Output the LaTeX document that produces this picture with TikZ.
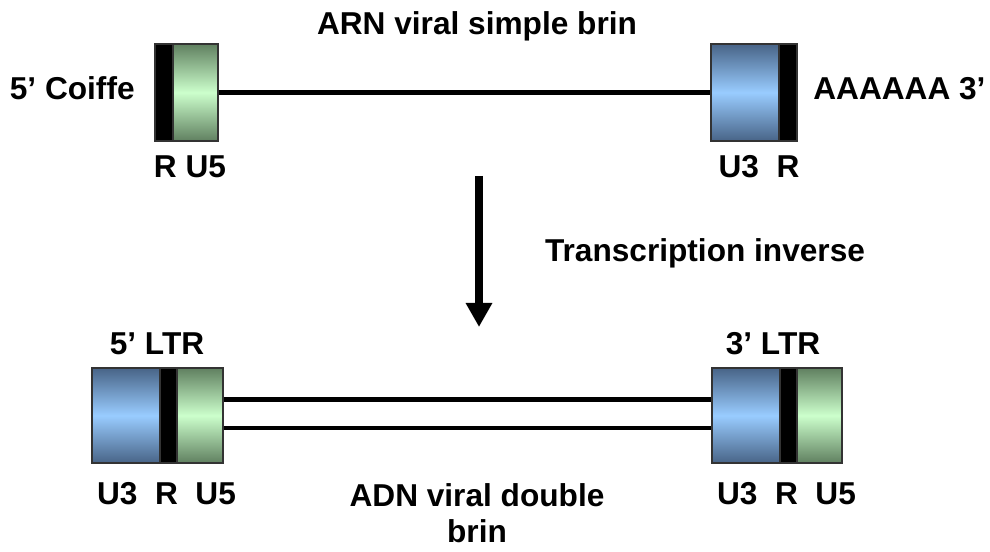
\documentclass[tikz,border=0pt]{standalone}
\usepackage{fontspec}
\setmainfont{Liberation Sans}
\usetikzlibrary{arrows.meta}

\definecolor{greendark}{RGB}{96,128,96}
\definecolor{greenlight}{RGB}{204,255,204}
\definecolor{bluedark}{RGB}{72,100,135}
\definecolor{bluelight}{RGB}{153,204,255}

\tikzset{
  seg/.style={draw=black!80, line width=0.6pt, inner sep=0pt, minimum height=1.94cm},
  rbox/.style={seg, fill=black, minimum width=0.36cm},
  ubox/.style={seg, top color=greendark, bottom color=greendark, middle color=greenlight, minimum width=0.9cm},
  tbox/.style={seg, top color=bluedark, bottom color=bluedark, middle color=bluelight, minimum width=1.36cm},
  lbl/.style={font=\bfseries\fontsize{18}{20}\selectfont, inner sep=0pt},
  strand/.style={line width=2.3pt}
}

\begin{document}
\begin{tikzpicture}
\useasboundingbox (0,0) rectangle (19.8,-11.04);
% ARN
\node[rbox] (r1) at (3.28,-1.85) {};
\node[ubox] (u51) at (3.91,-1.85) {};
\node[tbox] (u31) at (14.90,-1.85) {};
\node[rbox] (r2) at (15.76,-1.85) {};
\draw [strand] (u51) -- (u31);
\node[lbl, anchor=base] (arn) at (9.54,-0.70) {ARN viral simple brin};
\node[lbl, anchor=base east] (coiffe) at (2.70,-2.00) {5’ Coiffe};
\node[lbl, anchor=base west] (polya) at (16.26,-2.00) {AAAAAA 3’};
\node[lbl, anchor=base] (l1) at (3.80,-3.56) {R~U5};
\node[lbl, anchor=base] (l2) at (15.18,-3.56) {U3~~R};
% transcription
\coordinate (a1) at (9.58,-3.52);
\coordinate (a2) at (9.58,-6.54);
\draw [line width=0.16cm, -{Triangle[width=0.5cm,length=0.48cm]}] (a1) -- (a2);
\node[lbl, anchor=base] (ti) at (14.10,-5.24) {Transcription inverse};
% ADN
\node[tbox, minimum height=1.9cm] (u32) at (2.52,-8.31) {};
\node[rbox, minimum height=1.9cm, minimum width=0.34cm] (r3) at (3.37,-8.31) {};
\node[ubox, minimum height=1.9cm, minimum width=0.92cm] (u52) at (4.00,-8.31) {};
\node[tbox, minimum height=1.9cm] (u33) at (14.92,-8.31) {};
\node[rbox, minimum height=1.9cm, minimum width=0.34cm] (r4) at (15.77,-8.31) {};
\node[ubox, minimum height=1.9cm] (u53) at (16.39,-8.31) {};
\draw [strand] ([yshift=0.32cm]u52.east) -- ([yshift=0.32cm]u33.west);
\draw [strand] ([yshift=-0.25cm]u52.east) -- ([yshift=-0.25cm]u33.west);
\node[lbl, anchor=base] (ltr5) at (3.14,-7.10) {5’ LTR};
\node[lbl, anchor=base] (ltr3) at (15.46,-7.10) {3’ LTR};
\node[lbl, anchor=base] (l3) at (3.33,-10.10) {U3~~R~~U5};
\node[lbl, anchor=base] (l4) at (15.73,-10.10) {U3~~R~~U5};
\node[lbl, anchor=north, align=center] (adn) at (9.54,-9.66) {ADN viral double\\[0.02cm]brin};
\end{tikzpicture}
\end{document}
